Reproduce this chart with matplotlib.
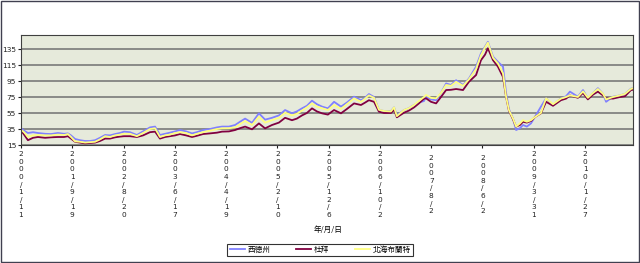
import matplotlib.pyplot as plt
from matplotlib.patches import Rectangle

# trading-day index (category axis) of each sampled point
days = [0, 12, 27, 47, 66, 94, 117, 144, 168, 183, 195, 211, 230, 250, 269, 289,
        308, 328, 347, 367, 386, 402, 425, 452, 476, 503, 523, 542, 562, 581, 601,
        620, 644, 667, 686, 710, 737, 764, 784, 811, 835, 854, 874, 901, 928, 952,
        979, 1006, 1030, 1057, 1076, 1096, 1115, 1135, 1154, 1174, 1197, 1221,
        1248, 1271, 1299, 1326, 1342, 1357, 1377, 1396, 1416, 1443, 1455, 1466,
        1494, 1513, 1533, 1552, 1572, 1580, 1599, 1619, 1638, 1658, 1677, 1697,
        1724, 1747, 1775, 1794, 1810, 1821, 1841, 1860, 1880, 1892, 1903, 1919,
        1931, 1946, 1958, 1973, 1989, 2005, 2028, 2048, 2075, 2106, 2126, 2141,
        2172, 2192, 2211, 2231, 2250, 2270, 2282, 2309, 2336, 2356, 2379, 2387]

wti = [36, 33, 30, 31, 30, 29, 28.7, 30, 29, 29.5, 27, 22.5, 21, 20, 20, 21,
       24, 27.5, 27, 28.7, 30, 31.7, 31, 27.5, 32, 37, 38, 27.5, 29, 30.4, 32,
       33.7, 32, 29.5, 31, 33.7, 35, 37, 38, 38, 40, 44, 48, 42.7, 54.6, 46.7,
       49, 52, 58.7, 54.6, 57, 60.8, 64, 70.4, 66, 63, 60.8, 69,
       63, 68, 75.4, 71, 74, 78.7, 75, 58.7, 57.5, 57.5, 62, 52,
       58.7, 61, 65, 68, 70, 75.4, 72, 71, 80, 92, 90, 96,
       90, 98, 113, 129.6, 138, 144, 125.4, 119, 113, 80, 60, 48,
       33.7, 36, 40, 38, 42, 50.4, 63, 73.3, 65, 73.3, 76, 81.7,
       75.4, 83.7, 73.3, 80, 86, 79, 69, 75.4, 77, 79, 85.4, 86]

dubai = [33, 28, 21, 24, 25, 24, 24.6, 25, 25, 26, 23, 19, 18, 17, 17.5, 18,
         20, 23, 23, 24.6, 25.5, 26, 26, 25, 27, 31, 31.7, 23, 25, 26, 27,
         28.7, 27, 25, 26.5, 28.7, 29.5, 30.4, 31.7, 32, 33.7, 36, 38, 34.6, 42, 35.8,
         40, 43, 49, 46, 48, 52, 55, 60.8, 57, 54.6, 53, 58.7,
         54.6, 60, 67, 65, 68, 71, 69, 56.7, 55, 55, 59, 49.6,
         55.4, 58, 62, 67, 73, 73.3, 69, 67, 75, 83.7, 84, 85,
         83.7, 94, 102.5, 121, 128, 136, 121, 113, 100, 75, 58, 47,
         38, 40, 44, 43, 45, 50, 54.6, 69, 64, 71, 73, 77,
         74, 80, 72, 78, 81.7, 77, 73.3, 73, 75, 76, 83.7, 84]

brent = [34, 31, 25, 27, 27.5, 27, 27, 28, 27.5, 28.7, 25, 19.5, 19, 18, 18.5, 19,
         22, 26, 25, 27, 28, 29, 29, 26, 30, 35, 35.8, 25, 27, 28, 30,
         31, 30, 27, 29, 31, 33, 35, 35.8, 36, 37, 41, 45, 40, 50.4, 43,
         46, 49, 55.4, 52, 54, 58, 62, 67, 63, 61, 58.7, 65,
         60, 66, 73.3, 69, 73, 77, 74, 59, 57.5, 57, 62, 51,
         58.7, 61, 65, 70, 75, 77.5, 74, 73.3, 80, 90, 89, 94,
         89, 97, 110, 127, 137, 143, 124, 117, 104.6, 75.4, 58.7, 48,
         38, 42, 46, 44, 46, 50, 55, 73.3, 66, 73, 75, 77,
         75, 82, 74, 80, 85, 79, 72, 75, 77, 79, 85, 86]

tick_days = [0, 200, 400, 600, 800, 1000, 1200, 1400, 1600, 1800, 2000, 2200]
tick_labels = ["2000/1/11", "2001/9/19", "2002/8/20", "2003/6/17", "2004/4/19",
               "2005/2/10", "2005/12/6", "2006/10/2", "2007/8/2", "2008/6/2",
               "2009/3/31", "2010/1/27"]
yticks = [15, 35, 55, 75, 95, 115, 135]

series_names = ["西德州", "杜拜", "北海布蘭特"]
series_colors = ["#8080FF", "#800040", "#FFFF80"]

cjk = ["Noto Sans CJK TC", "DejaVu Sans"]

fig = plt.figure(figsize=(6.4, 2.63), dpi=100)
fig.patch.set_facecolor("white")
fig.patches.append(Rectangle((0.001, 0.002), 0.997, 0.996, transform=fig.transFigure,
                             fill=False, edgecolor="#404050", linewidth=1.0))

ax = fig.add_axes([21 / 640, 1 - 145 / 263, 612 / 640, 110 / 263])
ax.set_facecolor("#E6EADB")

for vals, name, color in zip([wti, dubai, brent], series_names, series_colors):
    ax.plot(days, vals, color=color, linewidth=1.3, label=name)

ax.set_xlim(0, 2387)
ax.set_ylim(15, 152.5)
ax.set_yticks(yticks)
ax.set_yticklabels([str(v) for v in yticks], fontsize=5.3, family="DejaVu Sans")
ax.yaxis.grid(True, color="#707070", linewidth=1.1)
ax.set_axisbelow(True)
ax.tick_params(axis="y", length=2.5, width=0.8, pad=1, colors="#202020")

ax.set_xticks(tick_days)
ax.set_xticklabels([])
ax.tick_params(axis="x", length=2.5, width=0.8, colors="#202020")
for d, lab in zip(tick_days, tick_labels):
    ax.text(d, -0.36, "\n".join(lab), transform=ax.get_xaxis_transform(),
            ha="center", va="center", fontsize=5.3, linespacing=1.32,
            family="DejaVu Sans", color="#202020")

for sp in ax.spines.values():
    sp.set_color("#404040")
    sp.set_linewidth(0.8)

fig.text(0.512, 1 - 230 / 263, "年/月/日", ha="center", va="center",
         fontsize=5.5, family=cjk)

leg = fig.legend(loc="center", bbox_to_anchor=(320 / 640, 1 - 250 / 263), ncol=3,
                 prop={"family": cjk, "size": 5.5}, frameon=True, fancybox=False,
                 edgecolor="black", handlelength=2.0, columnspacing=3.4,
                 borderpad=0.3, handletextpad=0.3)
leg.get_frame().set_linewidth(0.8)

fig.savefig("out.png", dpi=100)
